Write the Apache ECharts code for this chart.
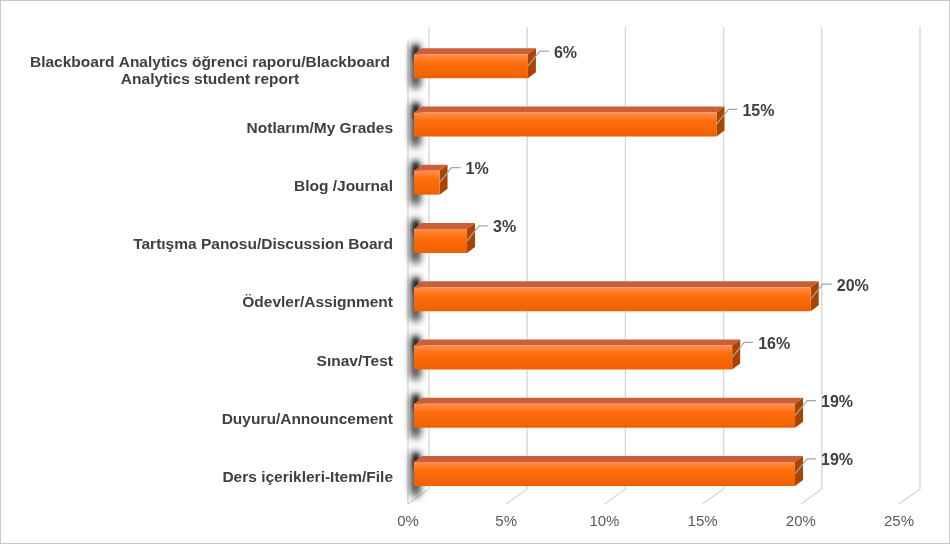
<!DOCTYPE html>
<html>
<head>
<meta charset="utf-8">
<script src="https://cdn.jsdelivr.net/npm/echarts@6/dist/echarts.min.js"></script>
<style>
html,body{margin:0;padding:0;background:#fff;}
#c{width:950px;height:544px;box-sizing:border-box;border:1px solid #c8c8c8;}
</style>
</head>
<body>
<div id="c"></div>
<script>
var categories = [
  'Blackboard Analytics öğrenci raporu/Blackboard\nAnalytics student report',
  'Notlarım/My Grades',
  'Blog /Journal',
  'Tartışma Panosu/Discussion Board',
  'Ödevler/Assignment',
  'Sınav/Test',
  'Duyuru/Announcement',
  'Ders içerikleri-Item/File'
];
var values = [5.8, 15.4, 1.3, 2.7, 20.2, 16.2, 19.4, 19.4];
var ticks = [0, 5, 10, 15, 20, 25];

var chart = echarts.init(document.getElementById('c'));
var DX = 8, DY = -6;
var FONT = '"Liberation Sans", Arial, sans-serif';
var OFF = 2000;

function frameItem(params, api) {
  var v = api.value(0);
  var p = api.coord([v, categories[categories.length - 1]]);
  var band = api.size([0, 1])[1];
  var yb = p[1] + band / 2 + 1;
  var top = api.coord([v, categories[0]])[1] - band / 2;
  var x = p[0];
  var ls = {stroke: '#d6d6d6', lineWidth: 1.3, fill: null};
  var children = [
    {type: 'polyline', shape: {points: [[x - 6, yb], [x + 15, yb - 15], [x + 15, top - 10]]}, style: ls, silent: true}
  ];
  if (v === 0) {
    children.push({type: 'line', shape: {x1: x - 6, y1: yb, x2: x - 6, y2: top + 4}, style: ls, silent: true});
  }
  return {type: 'group', children: children};
}

function shadowRect(x, y, w, h, blur, alpha) {
  return {type: 'rect', shape: {x: x - OFF, y: y, width: w, height: h},
    style: {fill: '#000', shadowBlur: blur, shadowOffsetX: OFF, shadowColor: 'rgba(0,0,0,' + alpha + ')'}, silent: true};
}

function barItem(params, api) {
  var cat = api.value(0);
  var v = api.value(1);
  var p0 = api.coord([0, cat]);
  var p1 = api.coord([v, cat]);
  var x0 = p0[0], x1 = p1[0], yc = p0[1];
  var h = 12;
  var yt = yc - h, ybt = yc + h;
  var label = Math.round(v) + '%';
  return {
    type: 'group',
    children: [
      shadowRect(x0 - 1, yt - 9, 5, 2 * h + 18, 8, 0.95),
      shadowRect(x0 - 1, yt - 9, 5, 2 * h + 18, 8, 0.8),
      shadowRect(x0, yt - 8, 4, 14, 4, 0.9),
      {type: 'polygon', shape: {points: [[x0, yt], [x0 + DX, yt + DY], [x1 + DX, yt + DY], [x1, yt]]},
        style: {fill: '#c9603a'}},
      {type: 'polygon', shape: {points: [[x1, yt], [x1 + DX, yt + DY], [x1 + DX, ybt + DY], [x1, ybt]]},
        style: {fill: '#a94500'}},
      {type: 'rect', shape: {x: x0, y: yt, width: x1 - x0, height: 2 * h},
        style: {fill: new echarts.graphic.LinearGradient(0, 0, 0, 1, [
          {offset: 0, color: '#ff8f4f'},
          {offset: 0.35, color: '#ff6e0c'},
          {offset: 1, color: '#ee6000'}
        ])}},
      {type: 'polyline', shape: {points: [[x1, yc], [x1 + 12, yc - 15], [x1 + 21, yc - 15]]},
        style: {stroke: '#a6a6a6', lineWidth: 1.2, fill: null}, silent: true},
      {type: 'text', x: x1 + 26, y: yc - 13,
        style: {text: label, fill: '#404040', font: 'bold 16px ' + FONT,
          verticalAlign: 'middle', align: 'left'}}
    ]
  };
}

chart.setOption({
  animation: false,
  grid: {left: 413, width: 491, top: 36, height: 466},
  xAxis: {
    type: 'value', min: 0, max: 25, interval: 5,
    axisLine: {show: false}, axisTick: {show: false}, splitLine: {show: false},
    axisLabel: {
      formatter: function (v) { return v + '%'; },
      color: '#595959', fontSize: 15, fontFamily: FONT,
      margin: 11, padding: [0, 12, 0, 0]
    }
  },
  yAxis: {
    type: 'category', data: categories, inverse: true,
    axisLine: {show: false}, axisTick: {show: false}, splitLine: {show: false},
    axisLabel: {
      margin: 21,
      padding: [8, 0, 0, 0],
      color: '#404040', fontSize: 15.5, fontWeight: 'bold',
      fontFamily: FONT,
      lineHeight: 17,
      formatter: function (v) {
        if (v.indexOf('\n') >= 0) {
          return v.split('\n').map(function (s) { return '{c|' + s + '}'; }).join('\n');
        }
        return v;
      },
      rich: {
        c: {width: 366, align: 'center', color: '#404040', fontSize: 15.5, fontWeight: 'bold',
          fontFamily: FONT, lineHeight: 17, padding: [2, 0, 0, 0]}
      }
    }
  },
  series: [
    {
      type: 'custom', name: 'frame', coordinateSystem: 'cartesian2d',
      data: ticks.map(function (t) { return [t, categories[0]]; }),
      encode: {x: 0, y: 1},
      renderItem: frameItem, silent: true, z: 1
    },
    {
      type: 'custom', name: 'bars', coordinateSystem: 'cartesian2d',
      data: categories.map(function (c, i) { return [c, values[i]]; }),
      encode: {y: 0, x: 1},
      renderItem: barItem, z: 2
    }
  ]
});
</script>
</body>
</html>
